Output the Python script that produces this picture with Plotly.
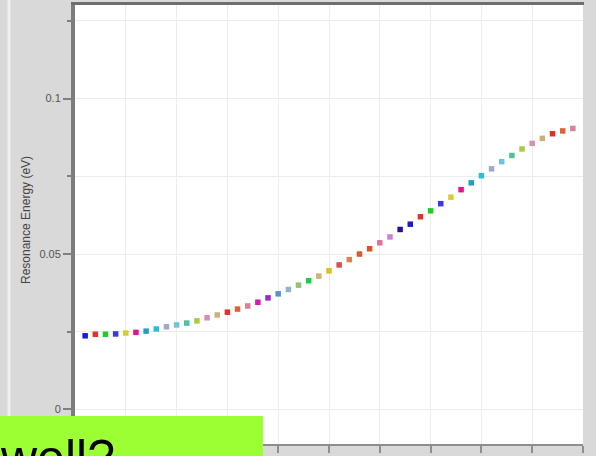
import plotly.graph_objects as go

# Sample positions along the horizontal axis
x_pos = [0.2, 0.4, 0.6, 0.8, 1.0, 1.2, 1.4, 1.6, 1.8, 2.0,
         2.2, 2.4, 2.6, 2.8, 3.0, 3.2, 3.4, 3.6, 3.8, 4.0,
         4.2, 4.4, 4.6, 4.8, 5.0, 5.2, 5.4, 5.6, 5.8, 6.0,
         6.2, 6.4, 6.6, 6.8, 7.0, 7.2, 7.4, 7.6, 7.8, 8.0,
         8.2, 8.4, 8.6, 8.8, 9.0, 9.2, 9.4, 9.6, 9.8]

# Resonance energy in eV at each position
resonance_ev = [0.0237, 0.0242, 0.0242, 0.0243, 0.0246, 0.0248, 0.0252, 0.0259, 0.0266, 0.0272,
                0.0278, 0.0285, 0.0295, 0.0304, 0.0313, 0.0323, 0.0333, 0.0345, 0.0359, 0.0372,
                0.0386, 0.0400, 0.0414, 0.0429, 0.0446, 0.0465, 0.0482, 0.0500, 0.0517, 0.0536,
                0.0555, 0.0579, 0.0596, 0.0620, 0.0639, 0.0662, 0.0683, 0.0707, 0.0729, 0.0752,
                0.0774, 0.0797, 0.0817, 0.0838, 0.0856, 0.0872, 0.0887, 0.0896, 0.0904]

# Cyclic point palette
palette = ["#1a1ad8", "#e03232", "#22cc22", "#3a3ae0", "#d8cc30", "#e0148c", "#1ea0c0", "#28c0d8",
           "#a0a8d0", "#70c4d8", "#50c09a", "#a8cc40", "#d890b0", "#ccb07c", "#dc3424", "#dc6430",
           "#d8809c", "#d818b0", "#a028c8", "#5094d0", "#90b4d0", "#90c47c", "#18d040", "#d0b470",
           "#d8c020", "#e04a50", "#e08050", "#d85a30", "#dc5028", "#e070a0", "#d080d0", "#28109c"]

point_colors = [palette[i % len(palette)] for i in range(len(x_pos))]

W, H = 596, 456
ML, MR, MT, MB = 75, 13, 5, 12
PW, PH = W - ML - MR, H - MT - MB


def px(x):
    return (x - ML) / PW


def py(y):
    return (H - MB - y) / PH


fig = go.Figure()
fig.add_trace(go.Scatter(
    x=x_pos, y=resonance_ev, mode="markers",
    marker=dict(symbol="square", size=5.5, color=point_colors, line=dict(width=0)),
    showlegend=False, hoverinfo="skip",
))

grid = "#ececec"
fig.update_layout(
    width=W, height=H,
    margin=dict(l=ML, r=MR, t=MT, b=MB, pad=0),
    paper_bgcolor="#d9d9d9", plot_bgcolor="white",
    font=dict(family="Liberation Sans, Arial, sans-serif", color="#555"),
    xaxis=dict(range=[0, 10], tick0=0, dtick=1, showgrid=True, gridcolor=grid, gridwidth=1,
               showline=True, linecolor="#8e8e8e", linewidth=2,
               ticks="outside", ticklen=7, tickwidth=2, tickcolor="#8e8e8e",
               showticklabels=False, zeroline=False, fixedrange=True),
    yaxis=dict(range=[-0.0111, 0.1301], tick0=0, dtick=0.05, showgrid=True, gridcolor=grid,
               showline=True, linecolor="#7d7d7d", linewidth=4,
               ticks="outside", ticklen=8, tickwidth=1.5, tickcolor="#808080",
               tickfont=dict(size=11, color="#555"), zeroline=False,
               minor=dict(tick0=0, dtick=0.025, ticks="outside", ticklen=4, tickwidth=1.5,
                          tickcolor="#808080", showgrid=True, gridcolor=grid)),
    shapes=[
        dict(type="rect", xref="paper", yref="paper", x0=px(7.5), x1=px(10.5), y0=py(H + 2), y1=py(-2),
             fillcolor="#f0f0f0", line=dict(width=0), layer="below"),
        dict(type="line", xref="paper", yref="paper", x0=px(71), x1=px(584), y0=py(3.5), y1=py(3.5),
             line=dict(color="#6e6e6e", width=3), layer="above"),
        dict(type="rect", xref="paper", yref="paper", x0=px(-2), x1=px(263), y0=py(H + 4), y1=py(416),
             fillcolor="#9bff33", line=dict(width=0), layer="above"),
    ],
    annotations=[
        dict(text="Resonance Energy (eV)", xref="paper", yref="paper", x=px(26), y=py(220),
             textangle=-90, showarrow=False, font=dict(size=12, color="#444"),
             xanchor="center", yanchor="middle"),
        dict(text="well?", xref="paper", yref="paper", x=px(-1), y=py(429),
             showarrow=False, font=dict(size=50, color="black",
                                        family="Liberation Sans, Arial, sans-serif"),
             xanchor="left", yanchor="top", borderpad=0),
    ],
)

fig.write_html("out.html")
